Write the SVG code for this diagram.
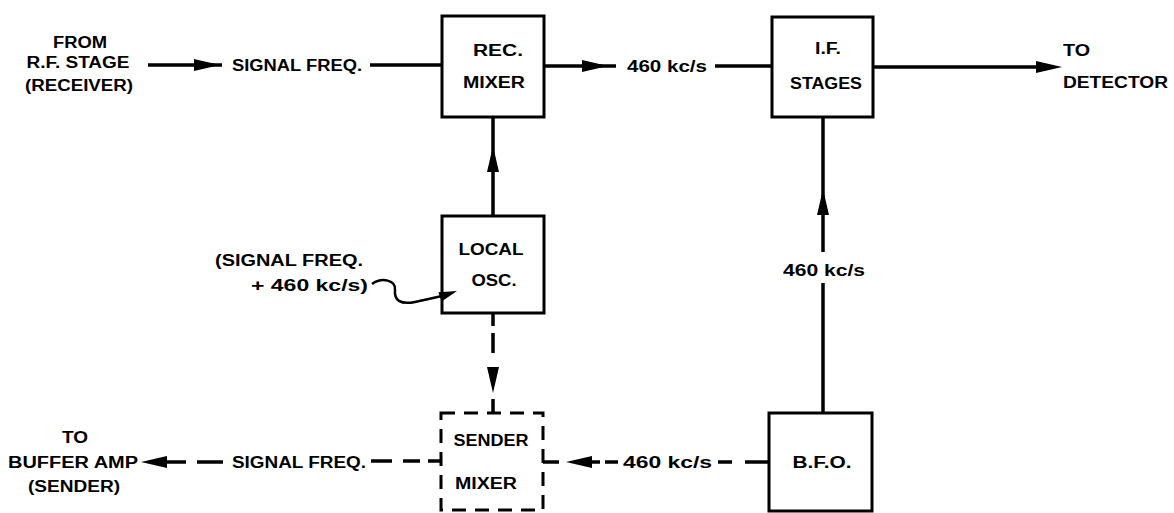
<svg xmlns="http://www.w3.org/2000/svg" xmlns:xlink="http://www.w3.org/1999/xlink" width="1174" height="513" viewBox="0 0 1174 513">
<style>
.t{font-family:"Liberation Sans",Arial,sans-serif;font-weight:bold;font-size:16px;fill:#000}
.m{text-anchor:middle}
.box{fill:none;stroke:#000;stroke-width:3}
.dbox{fill:none;stroke:#000;stroke-width:3;stroke-dasharray:14 9}
.ln{stroke:#000;stroke-width:3.5;fill:none}
.thin{stroke:#000;stroke-width:2.5;fill:none}
</style>
<defs>
<path id="ah" d="M0,0 L-26,-6 L-26,6 Z" fill="#000"/>
<path id="ahs" d="M0,0 L-18,-5 L-18,5 Z" fill="#000"/>
</defs>
<rect width="1174" height="513" fill="#fff"/>

<g id="connectors">
  <!-- from RF stage to rec mixer -->
  <line class="ln" x1="148" y1="65" x2="222" y2="65"/>
  <use xlink:href="#ah" href="#ah" transform="translate(220,65)"/>
  <line class="ln" x1="370" y1="65" x2="442" y2="65"/>
  <!-- rec mixer to IF stages -->
  <line class="ln" x1="544" y1="66" x2="616" y2="66"/>
  <use xlink:href="#ah" href="#ah" transform="translate(608,66)"/>
  <line class="ln" x1="715" y1="66" x2="772" y2="66"/>
  <!-- IF stages to detector -->
  <line class="ln" x1="873" y1="67" x2="1045" y2="67"/>
  <use xlink:href="#ah" href="#ah" transform="translate(1062,67)"/>
  <!-- local osc to rec mixer -->
  <line class="ln" x1="493" y1="216" x2="493" y2="117"/>
  <use xlink:href="#ah" href="#ah" transform="translate(493,146) rotate(-90)"/>
  <!-- BFO to IF stages -->
  <line class="ln" x1="823" y1="252" x2="823" y2="117"/>
  <line class="ln" x1="823" y1="413" x2="823" y2="283"/>
  <use xlink:href="#ah" href="#ah" transform="translate(823,189) rotate(-90)"/>
  <!-- local osc to sender mixer (dashed) -->
  <line class="ln" x1="493" y1="313" x2="493" y2="326"/>
  <line class="ln" x1="493" y1="333" x2="493" y2="353"/>
  <use xlink:href="#ah" href="#ah" transform="translate(493,393) rotate(90)"/>
  <line class="ln" x1="493" y1="399" x2="493" y2="413"/>
  <!-- BFO to sender mixer (dashed) -->
  <line class="ln" x1="745" y1="462" x2="769" y2="462"/>
  <line class="ln" x1="718" y1="462" x2="732" y2="462"/>
  <line class="ln" x1="605" y1="462" x2="618" y2="462"/>
  <line class="ln" x1="585" y1="462" x2="600" y2="462"/>
  <use xlink:href="#ah" href="#ah" transform="translate(566,462) rotate(180)"/>
  <line class="ln" x1="543" y1="462" x2="559" y2="462"/>
  <!-- sender mixer to buffer amp (dashed) -->
  <line class="ln" x1="428" y1="461" x2="441" y2="461"/>
  <line class="ln" x1="403" y1="461" x2="420" y2="461"/>
  <line class="ln" x1="371" y1="461" x2="392" y2="461"/>
  <line class="ln" x1="197" y1="462" x2="223" y2="462"/>
  <line class="ln" x1="160" y1="462" x2="186" y2="462"/>
  <use xlink:href="#ah" href="#ah" transform="translate(141,462) rotate(180)"/>
  <!-- pointer to local osc -->
  <path class="thin" d="M372,284 C382,277 396,280 395,290 C394,300 400,305 415,302 L442,296"/>
  <use xlink:href="#ahs" href="#ahs" transform="translate(457,291) rotate(-19)"/>
  <!-- connector labels -->
  <text class="t" x="232" y="71" textLength="130" lengthAdjust="spacingAndGlyphs">SIGNAL FREQ.</text>
  <text class="t" x="627" y="72" textLength="80" lengthAdjust="spacingAndGlyphs">460 kc/s</text>
  <text class="t m" x="824" y="276" textLength="82" lengthAdjust="spacingAndGlyphs">460 kc/s</text>
  <text class="t" x="623" y="468" textLength="89" lengthAdjust="spacingAndGlyphs">460 kc/s</text>
  <text class="t" x="232" y="468" textLength="134" lengthAdjust="spacingAndGlyphs">SIGNAL FREQ.</text>
  <text class="t" x="215" y="266" textLength="148" lengthAdjust="spacingAndGlyphs">(SIGNAL FREQ.</text>
  <text class="t" x="251" y="291" textLength="117" lengthAdjust="spacingAndGlyphs">+ 460 kc/s)</text>
</g>

<g id="from-rf-stage">
  <text class="t m" x="80" y="48" textLength="54" lengthAdjust="spacingAndGlyphs">FROM</text>
  <text class="t m" x="78" y="68" textLength="103" lengthAdjust="spacingAndGlyphs">R.F. STAGE</text>
  <text class="t m" x="79" y="91" textLength="108" lengthAdjust="spacingAndGlyphs">(RECEIVER)</text>
</g>

<g id="rec-mixer">
  <rect class="box" x="442" y="16" width="102" height="101"/>
  <text class="t m" x="498" y="56" textLength="50" lengthAdjust="spacingAndGlyphs">REC.</text>
  <text class="t m" x="494" y="88" textLength="62" lengthAdjust="spacingAndGlyphs">MIXER</text>
</g>

<g id="if-stages">
  <rect class="box" x="772" y="17" width="101" height="100"/>
  <text class="t m" x="828" y="54" textLength="26" lengthAdjust="spacingAndGlyphs">I.F.</text>
  <text class="t m" x="826" y="89" textLength="72" lengthAdjust="spacingAndGlyphs">STAGES</text>
</g>

<g id="to-detector">
  <text class="t" x="1063" y="56" textLength="27" lengthAdjust="spacingAndGlyphs">TO</text>
  <text class="t" x="1063" y="88" textLength="105" lengthAdjust="spacingAndGlyphs">DETECTOR</text>
</g>

<g id="local-osc">
  <rect class="box" x="442" y="216" width="102" height="97"/>
  <text class="t m" x="491" y="255" textLength="65" lengthAdjust="spacingAndGlyphs">LOCAL</text>
  <text class="t m" x="494" y="286" textLength="45" lengthAdjust="spacingAndGlyphs">OSC.</text>
</g>

<g id="sender-mixer">
  <rect class="dbox" x="441" y="413" width="102" height="97"/>
  <text class="t m" x="491" y="446" textLength="75" lengthAdjust="spacingAndGlyphs">SENDER</text>
  <text class="t m" x="486" y="489" textLength="62" lengthAdjust="spacingAndGlyphs">MIXER</text>
</g>

<g id="bfo">
  <rect class="box" x="769" y="413" width="103" height="98"/>
  <text class="t m" x="822" y="468" textLength="59" lengthAdjust="spacingAndGlyphs">B.F.O.</text>
</g>

<g id="to-buffer-amp">
  <text class="t m" x="75" y="443" textLength="26" lengthAdjust="spacingAndGlyphs">TO</text>
  <text class="t m" x="73" y="468" textLength="130" lengthAdjust="spacingAndGlyphs">BUFFER AMP</text>
  <text class="t m" x="74" y="492" textLength="92" lengthAdjust="spacingAndGlyphs">(SENDER)</text>
</g>
</svg>
